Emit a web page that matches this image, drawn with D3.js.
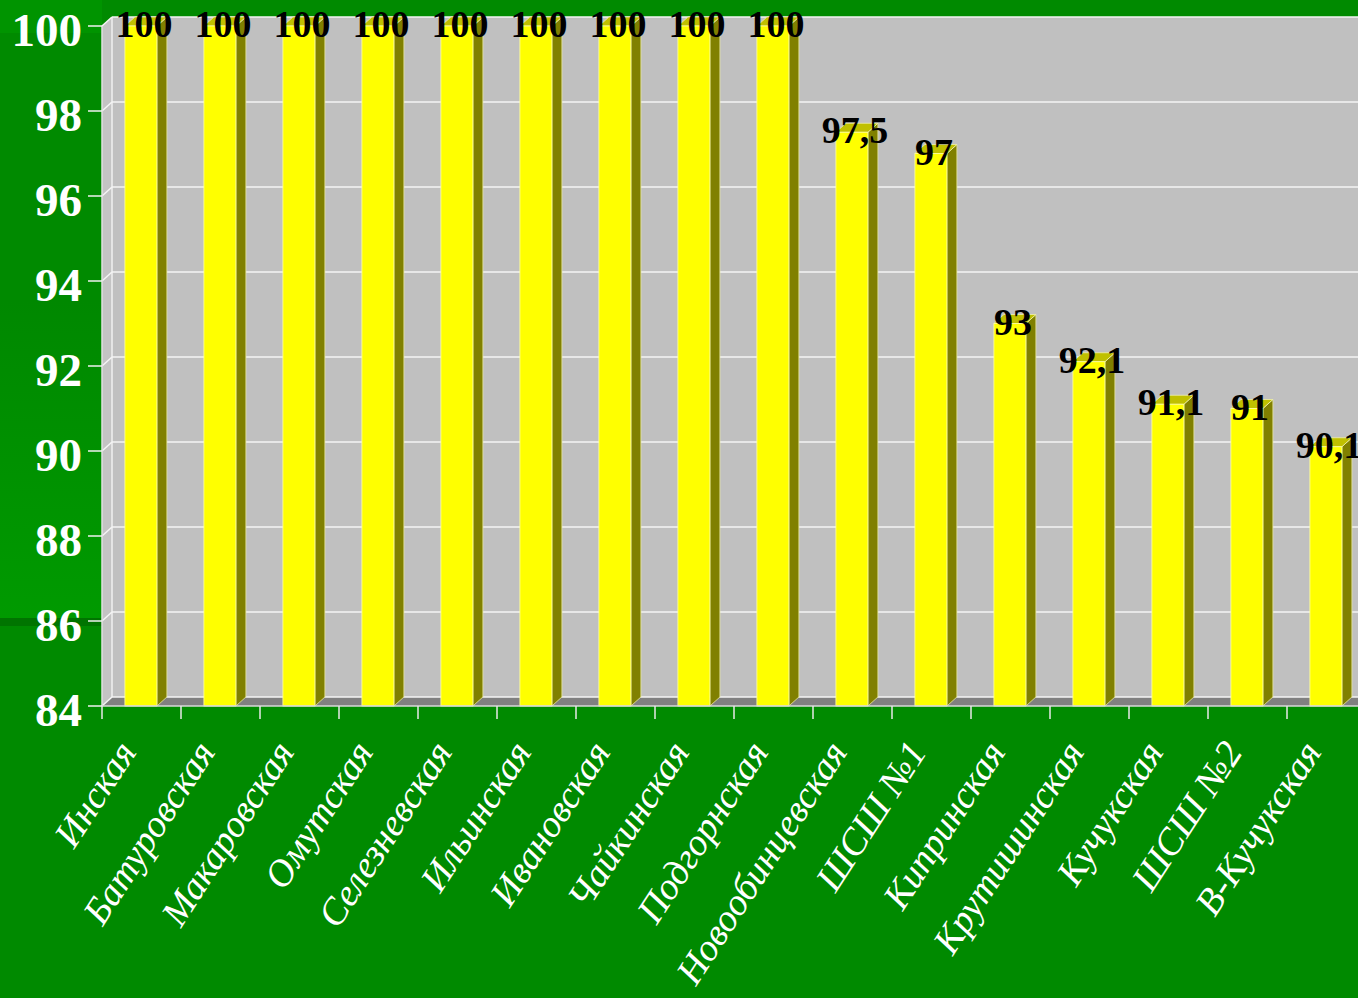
<!DOCTYPE html>
<html>
<head>
<meta charset="utf-8">
<script src="https://cdn.jsdelivr.net/npm/d3@7"></script>
<style>
  html, body { margin: 0; padding: 0; background: #008a00; }
  svg { display: block; }
</style>
</head>
<body>
<svg id="chart" width="1358" height="998"></svg>
<script>
// Schools and their percentage values
const categories = [
  "Инская", "Батуровская", "Макаровская", "Омутская", "Селезневская",
  "Ильинская", "Ивановская", "Чайкинская", "Подгорнская", "Новообинцевская",
  "ШСШ №1", "Кипринская", "Крутишинская", "Кучукская", "ШСШ №2", "В-Кучукская"
];
const values = [100, 100, 100, 100, 100, 100, 100, 100, 100, 97.5, 97, 93, 92.1, 91.1, 91, 90.1];
const valueLabels = ["100", "100", "100", "100", "100", "100", "100", "100", "100", "97,5", "97", "93", "92,1", "91,1", "91", "90,1"];
const yTicks = [84, 86, 88, 90, 92, 94, 96, 98, 100];

const W = 1358, H = 998;
const svg = d3.select("#chart");

// Slide background
const defs = svg.append("defs");
const grad = defs.append("linearGradient").attr("id", "leftBand")
  .attr("x1", 0).attr("y1", 0).attr("x2", 0).attr("y2", 1);
grad.append("stop").attr("offset", 0).attr("stop-color", "#008800");
grad.append("stop").attr("offset", 1).attr("stop-color", "#009a00");

svg.append("rect").attr("width", W).attr("height", H).attr("fill", "#008a00");
svg.append("rect").attr("x", 0).attr("y", 0).attr("width", 102).attr("height", 33).attr("fill", "#009400");
svg.append("rect").attr("x", 0).attr("y", 300).attr("width", 102).attr("height", 318).attr("fill", "url(#leftBand)");
svg.append("rect").attr("x", 0).attr("y", 618).attr("width", 102).attr("height", 8).attr("fill", "#007400");

// Scales
const x = d3.scaleBand().domain(categories).range([102, 1366]).paddingInner(0).paddingOuter(0);
const y = d3.scaleLinear().domain([84, 100]).range([706, 26]);

// 3D depth offset
const dx = 10, dy = -9;
const xL = x.range()[0], xR = x.range()[1];
const yB = y(84), yT = y(100);

// Back wall
svg.append("rect")
  .attr("x", xL + dx).attr("y", yT + dy)
  .attr("width", xR - xL).attr("height", yB - yT)
  .attr("fill", "#c0c0c0");
// Left wall
svg.append("polygon")
  .attr("points", [[xL, yT], [xL + dx, yT + dy], [xL + dx, yB + dy], [xL, yB]].join(" "))
  .attr("fill", "#c4c4c4");
// Floor
svg.append("polygon")
  .attr("points", [[xL, yB], [xL + dx, yB + dy], [xR + dx, yB + dy], [xR, yB]].join(" "))
  .attr("fill", "#808080");

// Gridlines on the back and left walls
const grid = svg.append("g").attr("stroke", "#f4f4f4").attr("stroke-width", 1.6);
yTicks.forEach(v => {
  grid.append("line")
    .attr("x1", xL + dx).attr("x2", xR + dx)
    .attr("y1", y(v) + dy).attr("y2", y(v) + dy);
  grid.append("line")
    .attr("x1", xL).attr("y1", y(v))
    .attr("x2", xL + dx).attr("y2", y(v) + dy);
});
// Wall corner edge
svg.append("line")
  .attr("x1", xL + dx).attr("x2", xL + dx)
  .attr("y1", yT + dy).attr("y2", yB + dy)
  .attr("stroke", "#f4f4f4").attr("stroke-width", 1.4);

// Bars (front, side, top)
const barOff = x.bandwidth() * 0.29;
const barW = x.bandwidth() * 0.405;
const bars = svg.append("g");
categories.forEach((c, i) => {
  const bx = x(c) + barOff;
  const top = y(values[i]);
  const g = bars.append("g");
  g.append("polygon")
    .attr("points", [[bx + barW, top], [bx + barW + dx, top + dy], [bx + barW + dx, yB + dy], [bx + barW, yB]].join(" "))
    .attr("fill", "#808000")
    .attr("stroke", "#e8e8a0").attr("stroke-width", 0.8);
  g.append("polygon")
    .attr("points", [[bx, top], [bx + dx, top + dy], [bx + barW + dx, top + dy], [bx + barW, top]].join(" "))
    .attr("fill", "#c0c000")
    .attr("stroke", "#f0f0b0").attr("stroke-width", 0.8);
  g.append("rect")
    .attr("x", bx).attr("y", top)
    .attr("width", barW).attr("height", yB - top)
    .attr("fill", "#ffff00")
    .attr("stroke", "#ffffa0").attr("stroke-width", 0.8);
});

// Value labels
svg.append("g").selectAll("text").data(categories).join("text")
  .attr("x", (c) => x(c) + barOff + barW / 2 + 3)
  .attr("y", (c, i) => y(values[i]) + 11)
  .attr("text-anchor", "middle")
  .attr("font-family", "'Liberation Serif', 'Times New Roman', serif")
  .attr("font-weight", "bold")
  .attr("font-size", 38)
  .attr("fill", "#000")
  .text((c, i) => valueLabels[i]);

// Y axis
const yAxis = svg.append("g");
yAxis.append("line")
  .attr("x1", xL).attr("x2", xL).attr("y1", yT).attr("y2", yB)
  .attr("stroke", "#e0e0e0").attr("stroke-width", 1.5);
yAxis.selectAll(".tick").data(yTicks).join("line")
  .attr("x1", xL - 14).attr("x2", xL)
  .attr("y1", d => y(d)).attr("y2", d => y(d))
  .attr("stroke", "#f0f0f0").attr("stroke-width", 1.5);
yAxis.selectAll("text").data(yTicks).join("text")
  .attr("x", 82).attr("y", d => y(d) + 20)
  .attr("text-anchor", "end")
  .attr("font-family", "'Liberation Serif', 'Times New Roman', serif")
  .attr("font-weight", "bold")
  .attr("font-size", 47)
  .attr("fill", "#fff")
  .text(d => d);

// X axis
const xAxis = svg.append("g");
xAxis.append("line")
  .attr("x1", xL).attr("x2", xR).attr("y1", yB).attr("y2", yB)
  .attr("stroke", "#d8d8d8").attr("stroke-width", 1.5);
const boundaries = categories.map(c => x(c)).concat([xR]);
xAxis.selectAll(".tick").data(boundaries).join("line")
  .attr("x1", d => d).attr("x2", d => d)
  .attr("y1", yB).attr("y2", yB + 13)
  .attr("stroke", "#e8e8e8").attr("stroke-width", 1.5);
xAxis.selectAll("text").data(categories).join("text")
  .attr("transform", c => `translate(${x(c) + x.bandwidth() / 2 - 4},${yB + 46}) rotate(-57)`)
  .attr("text-anchor", "end")
  .attr("font-family", "'Liberation Serif', 'Times New Roman', serif")
  .attr("font-style", "italic")
  .attr("font-size", 38)
  .attr("fill", "#fff")
  .text(c => c);
</script>
</body>
</html>
